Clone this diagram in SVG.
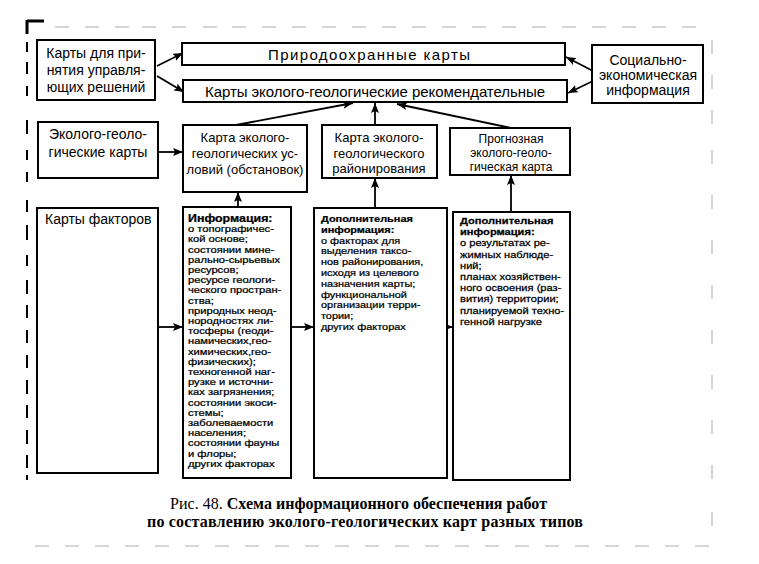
<svg xmlns="http://www.w3.org/2000/svg" width="759" height="564" viewBox="0 0 759 564">
<style>
.box{fill:#fff;stroke:#000;stroke-width:2}
.t{font-family:"Liberation Sans",Arial,sans-serif;fill:#000}
.l{font-size:14px;text-anchor:middle}
.m{font-size:13px;text-anchor:middle}
.s{font-size:9px;stroke:#000;stroke-width:0.25}
.s2{font-size:9.5px;stroke:#000;stroke-width:0.25}
.b{font-weight:bold}
.c{stroke:#000;stroke-width:1.8;fill:none;marker-end:url(#ah)}
.cap{font-family:"Liberation Serif","Times New Roman",serif;font-size:16px;fill:#000}
.noise{stroke:#c8c8c8;stroke-width:1.5}
</style>
<defs>
<marker id="ah" viewBox="0 0 10 8" refX="10" refY="4" markerWidth="10" markerHeight="8" markerUnits="userSpaceOnUse" orient="auto">
<path d="M0,0 L10,4 L0,8 L2,4 Z" fill="#000"/>
</marker>
</defs>
<rect width="759" height="564" fill="#fff"/>

<g id="scan-marks">
<path d="M27,20 V34 M27,21 H44" stroke="#000" stroke-width="3" fill="none"/>
<path d="M27,42 V52 M27,62 V74 M27,86 V96 M27,120 V134 M27,150 V160 M27,172 V182 M27,200 V212 M27,225 V240 M27,255 V266 M27,280 V294 M27,305 V318 M27,330 V343 M27,355 V368 M27,380 V394 M27,405 V418 M27,430 V444 M27,455 V468 M27,475 V480" stroke="#000" stroke-width="2"/>
<path class="noise" d="M55,27 h14 M85,27 h14 M115,27 h14 M142,27 h14 M172,27 h14 M203,27 h14 M232,27 h14 M262,27 h14 M292,27 h14 M322,27 h14 M352,27 h14 M382,27 h14 M412,27 h14 M442,27 h14 M472,27 h14 M502,27 h14 M532,27 h14 M562,27 h14 M592,27 h14 M622,27 h14 M652,27 h14 M682,27 h14"/>
<path class="noise" d="M35,546 h14 M65,546 h14 M95,546 h14 M125,546 h14 M155,546 h14 M185,546 h14 M215,546 h14 M245,546 h14 M275,546 h14 M305,546 h14 M335,546 h14 M365,546 h14 M395,546 h14 M425,546 h14 M455,546 h14 M485,546 h14 M515,546 h14 M545,546 h14 M575,546 h14 M605,546 h14 M635,546 h14 M665,546 h14 M695,546 h14"/>
<path class="noise" d="M712,40 v14 M712,75 v14 M712,110 v14 M712,150 v14 M712,195 v14 M712,240 v14 M712,285 v14 M712,330 v14 M712,375 v14 M712,420 v14 M712,465 v14 M712,512 v14"/>
</g>

<g id="connectors">
<line class="c" x1="157" y1="66" x2="183" y2="53"/>
<line class="c" x1="157" y1="76" x2="184" y2="92"/>
<line class="c" x1="593" y1="71" x2="566" y2="57"/>
<line class="c" x1="593" y1="81" x2="568" y2="93"/>
<line class="c" x1="158" y1="152" x2="183" y2="152"/>
<line class="c" x1="236" y1="125" x2="353" y2="103"/>
<line class="c" x1="375" y1="125" x2="375" y2="103"/>
<line class="c" x1="511" y1="128" x2="397" y2="104"/>
<line class="c" x1="238" y1="207" x2="238" y2="192"/>
<line class="c" x1="375" y1="208" x2="375" y2="178"/>
<line class="c" x1="511" y1="212" x2="511" y2="175"/>
<line class="c" x1="158" y1="327" x2="183" y2="327"/>
<line class="c" x1="291" y1="327" x2="314" y2="327"/>
<line class="c" x1="447" y1="327" x2="453" y2="327"/>
</g>

<g id="n-upr">
<rect class="box" x="37" y="40" width="118" height="60"/>
<text class="t l" x="96" y="58">Карты для при-</text>
<text class="t l" x="96" y="75">нятия управля-</text>
<text class="t l" x="96" y="92">ющих решений</text>
</g>

<g id="n-prirod">
<rect class="box" x="182" y="43" width="383" height="22"/>
<text class="t" x="268" y="60" font-size="15" textLength="202">Природоохранные  карты</text>
</g>

<g id="n-rekom">
<rect class="box" x="183" y="80" width="384" height="22"/>
<text class="t" x="205" y="97" font-size="15" textLength="340">Карты эколого-геологические рекомендательные</text>
</g>

<g id="n-soc">
<rect class="box" x="592" y="45" width="111" height="58"/>
<text class="t l" x="648" y="65">Социально-</text>
<text class="t l" x="648" y="80">экономическая</text>
<text class="t l" x="648" y="95">информация</text>
</g>

<g id="n-ekogeol">
<rect class="box" x="38" y="122" width="120" height="56"/>
<text class="t l" x="98" y="139">Эколого-геоло-</text>
<text class="t l" x="98" y="157">гические карты</text>
</g>

<g id="n-usl">
<rect class="box" x="183" y="125" width="124" height="67"/>
<text class="t m" x="245" y="142">Карта эколого-</text>
<text class="t m" x="245" y="158">геологических ус-</text>
<text class="t m" x="245" y="174">ловий (обстановок)</text>
</g>

<g id="n-rayon">
<rect class="box" x="322" y="125" width="115" height="53"/>
<text class="t m" x="379" y="142">Карта эколого-</text>
<text class="t m" x="379" y="158">геологического</text>
<text class="t m" x="379" y="173">районирования</text>
</g>

<g id="n-progn">
<rect class="box" x="450" y="128" width="120" height="47"/>
<text class="t" x="511" y="143" font-size="12" text-anchor="middle">Прогнозная</text>
<text class="t" x="511" y="157" font-size="12" text-anchor="middle">эколого-геоло-</text>
<text class="t" x="511" y="171" font-size="12" text-anchor="middle">гическая карта</text>
</g>

<g id="n-faktor">
<rect class="box" x="37" y="208" width="121" height="265"/>
<text class="t" x="45" y="224" font-size="14">Карты факторов</text>
</g>

<g id="n-info">
<rect class="box" x="183" y="207" width="108" height="271"/>
<g transform="translate(188,0) scale(1.24,1)">
<text class="t s" x="0" y="222"><tspan class="b" font-size="10">Информация:</tspan><tspan x="0" dy="10.2">о топографичес-</tspan><tspan x="0" dy="10.2">кой основе;</tspan><tspan x="0" dy="10.2">состоянии мине-</tspan><tspan x="0" dy="10.2">рально-сырьевых</tspan><tspan x="0" dy="10.2">ресурсов;</tspan><tspan x="0" dy="10.2">ресурсе геологи-</tspan><tspan x="0" dy="10.2">ческого простран-</tspan><tspan x="0" dy="10.2">ства;</tspan><tspan x="0" dy="10.2">природных неод-</tspan><tspan x="0" dy="10.2">нородностях ли-</tspan><tspan x="0" dy="10.2">тосферы (геоди-</tspan><tspan x="0" dy="10.2">намических,гео-</tspan><tspan x="0" dy="10.2">химических,гео-</tspan><tspan x="0" dy="10.2">физических);</tspan><tspan x="0" dy="10.2">техногенной наг-</tspan><tspan x="0" dy="10.2">рузке и источни-</tspan><tspan x="0" dy="10.2">ках загрязнения;</tspan><tspan x="0" dy="10.2">состоянии экоси-</tspan><tspan x="0" dy="10.2">стемы;</tspan><tspan x="0" dy="10.2">заболеваемости</tspan><tspan x="0" dy="10.2">населения;</tspan><tspan x="0" dy="10.2">состоянии фауны</tspan><tspan x="0" dy="10.2">и флоры;</tspan><tspan x="0" dy="10.2">других факторах</tspan></text>
</g>
</g>

<g id="n-dop1">
<rect class="box" x="314" y="208" width="133" height="270"/>
<g transform="translate(321,0) scale(1.15,1)">
<text class="t s2" x="0" y="222"><tspan class="b">Дополнительная</tspan><tspan class="b" x="0" dy="10.8">информация:</tspan><tspan x="0" dy="10.8">о факторах для</tspan><tspan x="0" dy="10.8">выделения таксо-</tspan><tspan x="0" dy="10.8">нов районирования,</tspan><tspan x="0" dy="10.8">исходя из целевого</tspan><tspan x="0" dy="10.8">назначения карты;</tspan><tspan x="0" dy="10.8">функциональной</tspan><tspan x="0" dy="10.8">организации терри-</tspan><tspan x="0" dy="10.8">тории;</tspan><tspan x="0" dy="10.8">других факторах</tspan></text>
</g>
</g>

<g id="n-dop2">
<rect class="box" x="453" y="212" width="117" height="268"/>
<g transform="translate(460,0) scale(1.17,1)">
<text class="t s2" x="0" y="224"><tspan class="b">Дополнительная</tspan><tspan class="b" x="0" dy="11.2">информация:</tspan><tspan x="0" dy="11.2">о результатах ре-</tspan><tspan x="0" dy="11.2">жимных наблюде-</tspan><tspan x="0" dy="11.2">ний;</tspan><tspan x="0" dy="11.2">планах хозяйствен-</tspan><tspan x="0" dy="11.2">ного освоения (раз-</tspan><tspan x="0" dy="11.2">вития) территории;</tspan><tspan x="0" dy="11.2">планируемой техно-</tspan><tspan x="0" dy="11.2">генной нагрузке</tspan></text>
</g>
</g>

<g id="caption">
<text class="cap" x="170" y="509" textLength="377"><tspan>Рис. 48. </tspan><tspan font-weight="bold">Схема информационного обеспечения работ</tspan></text>
<text class="cap" x="147" y="527" font-weight="bold" textLength="436">по составлению эколого-геологических карт разных типов</text>
</g>
</svg>
